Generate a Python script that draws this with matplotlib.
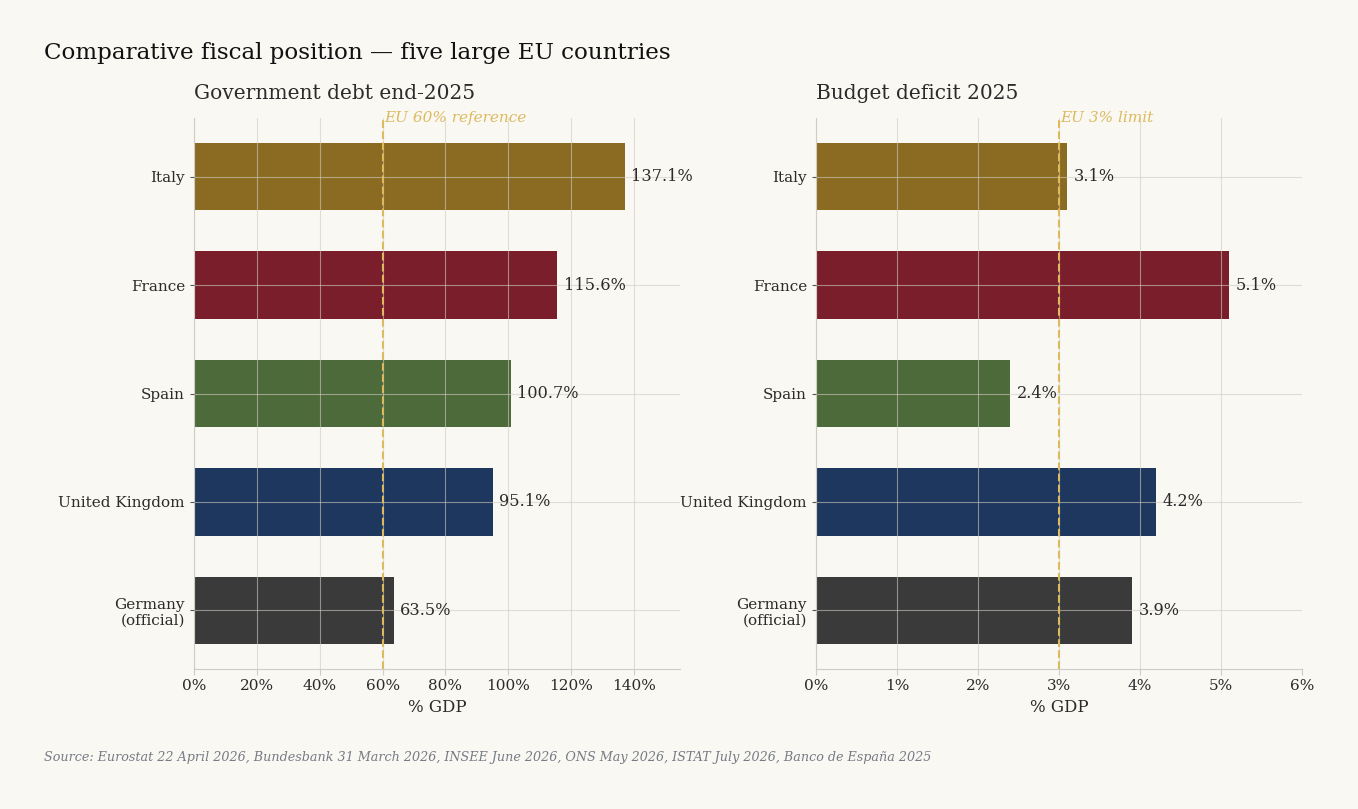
import matplotlib
matplotlib.use("Agg")
import matplotlib.pyplot as plt
from matplotlib.ticker import FuncFormatter

# data
countries = ["Italy", "France", "Spain", "United Kingdom", "Germany\n(official)"]
debt = [137.1, 115.6, 100.7, 95.1, 63.5]
deficit = [3.1, 5.1, 2.4, 4.2, 3.9]
colors = ["#8B6B22", "#7A1E2C", "#4D6A3A", "#1E375E", "#3A3A3A"]

bg = "#F9F8F3"
gold = "#DDBA60"
plt.rcParams["font.family"] = ["DejaVu Serif"]

fig = plt.figure(figsize=(13.58, 8.09), dpi=100, facecolor=bg)
ax1 = fig.add_axes([194 / 1358, 1 - 669 / 809, 486 / 1358, 551 / 809])
ax2 = fig.add_axes([816 / 1358, 1 - 669 / 809, 486 / 1358, 551 / 809])


def panel(ax, vals, xmax, title, ref, ref_label, fmt, tick_fmt, pad):
    ax.set_facecolor(bg)
    y = range(len(countries))
    ax.barh(y, vals, height=0.62, color=colors, zorder=1)
    ax.set_yticks(list(y))
    ax.set_yticklabels(countries, fontsize=11, color="#2b2b2b")
    ax.invert_yaxis()
    ax.set_xlim(0, xmax)
    ax.xaxis.set_major_formatter(FuncFormatter(tick_fmt))
    ax.tick_params(axis="x", labelsize=11, colors="#2b2b2b", length=4, color="#cccccc")
    ax.tick_params(axis="y", length=3, color="#555555")
    ax.grid(True, color="#d0ccc0", alpha=0.6, linewidth=0.8, zorder=2)
    ax.set_axisbelow(False)
    for s in ["top", "right"]:
        ax.spines[s].set_visible(False)
    for s in ["left", "bottom"]:
        ax.spines[s].set_color("#cccccc")
    ax.axvline(ref, color=gold, linestyle="--", linewidth=1.5, zorder=3)
    ax.text(ref + xmax * 0.003, 1.0, ref_label, transform=ax.get_xaxis_transform(),
            color=gold, fontsize=11, style="italic", va="center", ha="left")
    for i, v in enumerate(vals):
        ax.text(v + pad, i, fmt.format(v), va="center", ha="left",
                fontsize=11.6, color="#2b2b2b")
    ax.set_title(title, loc="left", fontsize=14.5, color="#2b2b2b", pad=14)
    ax.set_xlabel("% GDP", fontsize=12, color="#2b2b2b")


panel(ax1, debt, 154.6, "Government debt end-2025", 60, "EU 60% reference",
      "{:.1f}%", lambda x, p: f"{x:.0f}%", 2)
ax1.set_xticks(range(0, 141, 20))
panel(ax2, deficit, 6, "Budget deficit 2025", 3, "EU 3% limit",
      "{:.1f}%", lambda x, p: f"{x:.0f}%", 0.08)
ax2.set_xticks(range(0, 7))

fig.text(44 / 1358, 1 - 53 / 809, "Comparative fiscal position \u2014 five large EU countries",
         fontsize=16.6, color="#111111", va="center", ha="left")
fig.text(44 / 1358, 1 - 757 / 809,
         "Source: Eurostat 22 April 2026, Bundesbank 31 March 2026, INSEE June 2026, "
         "ONS May 2026, ISTAT July 2026, Banco de Espa\u00f1a 2025",
         fontsize=9.2, color="#777b85", style="italic", va="center", ha="left")

fig.savefig("out.png", dpi=100, facecolor=bg)
